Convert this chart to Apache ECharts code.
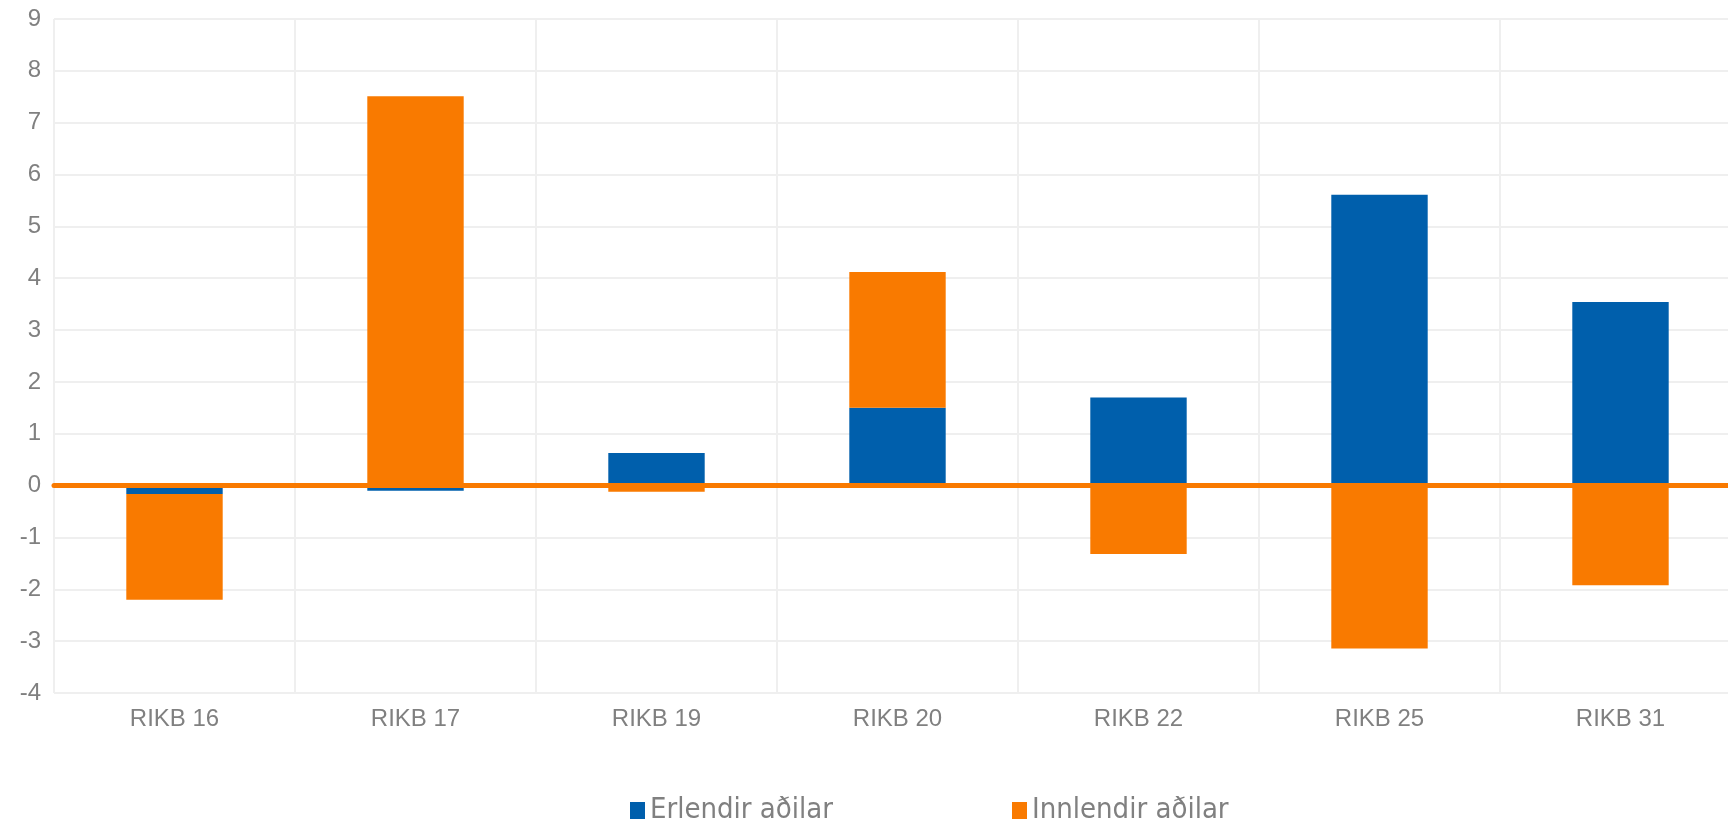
<!DOCTYPE html>
<html>
<head>
<meta charset="utf-8">
<title>RIKB</title>
<script src="https://cdn.jsdelivr.net/npm/echarts@6/dist/echarts.min.js"></script>
<style>
  html, body { margin: 0; padding: 0; background: #fff; }
  #main { width: 1728px; height: 823px; }
</style>
</head>
<body>
<div id="main"></div>
<script>
// flokkar (x-ás)
var categories = ['RIKB 16', 'RIKB 17', 'RIKB 19', 'RIKB 20', 'RIKB 22', 'RIKB 25', 'RIKB 31'];
// gildi lesin af mynd
var erlendir = [-0.16, -0.1, 0.63, 1.5, 1.7, 5.61, 3.54];
var innlendir = [-2.04, 7.51, -0.12, 2.62, -1.32, -3.14, -1.92];
var seriesNames = ['Erlendir aðilar', 'Innlendir aðilar'];

var blue = '#005fac';
var orange = '#f97a00';
var gridColor = '#efefef';
var labelColor = '#808080';

function legendFor(name, left) {
  return {
    data: [name],
    left: left,
    top: 796,
    padding: 0,
    icon: 'rect',
    itemWidth: 15,
    itemHeight: 17,
    itemGap: 5,
    textStyle: {color: labelColor, fontSize: 29, fontFamily: 'DejaVu Sans Condensed'}
  };
}

function drawChart() {
  var myChart = echarts.init(document.getElementById('main'));
  var option = {
    backgroundColor: '#fff',
    animation: false,
    grid: {
      left: 54,
      right: -13,
      top: 19,
      bottom: 130,
      containLabel: false,
      outerBoundsMode: 'none'
    },
    legend: [
      legendFor(seriesNames[0], 630),
      legendFor(seriesNames[1], 1012)
    ],
    xAxis: [
      {
        type: 'category',
        data: categories,
        position: 'bottom',
        axisLine: {show: false, onZero: false},
        axisTick: {show: false},
        axisLabel: {color: labelColor, fontSize: 24, fontFamily: 'Liberation Sans', margin: 14},
        splitLine: {show: true, lineStyle: {color: gridColor, width: 2}}
      },
      {
        // appelsínugula núlllínan ofan á súlunum
        type: 'category',
        data: categories,
        position: 'top',
        z: 5,
        axisLine: {show: true, onZero: true, lineStyle: {color: orange, width: 5}},
        axisTick: {show: false},
        axisLabel: {show: false},
        splitLine: {show: false}
      }
    ],
    yAxis: {
      type: 'value',
      min: -4,
      max: 9,
      interval: 1,
      axisLine: {show: false},
      axisTick: {show: false},
      axisLabel: {color: labelColor, fontSize: 24, fontFamily: 'Liberation Sans', margin: 13},
      splitLine: {show: true, lineStyle: {color: gridColor, width: 2}}
    },
    series: [
      {
        name: seriesNames[0],
        type: 'bar',
        stack: 'total',
        barWidth: '40%',
        itemStyle: {color: blue},
        data: erlendir
      },
      {
        name: seriesNames[1],
        type: 'bar',
        stack: 'total',
        barWidth: '40%',
        itemStyle: {color: orange},
        data: innlendir
      }
    ]
  };
  myChart.setOption(option, true);
}

drawChart();
</script>
</body>
</html>
